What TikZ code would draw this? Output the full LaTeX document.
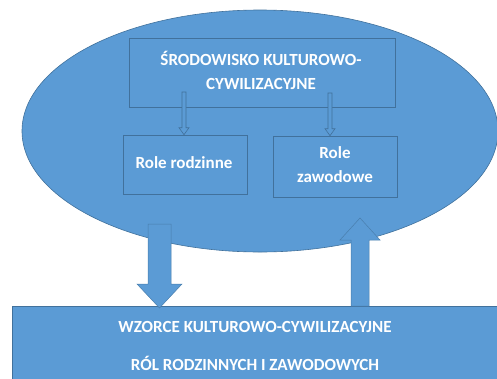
\documentclass[tikz,border=0pt]{standalone}
\usepackage{fontspec}
\setmainfont{Carlito}
\usetikzlibrary{shapes.geometric}
\definecolor{fillblue}{HTML}{5B9BD5}
\definecolor{edgeblue}{HTML}{41719C}
\begin{document}
\begin{tikzpicture}[x=1pt,y=-1pt,
  blob/.style={fill=fillblue,draw=edgeblue,line width=0.6pt},
  rolebox/.style={draw=edgeblue,fill=fillblue,line width=0.6pt,rectangle,inner sep=0pt},
  lbl/.style={text=white,font=\bfseries\fontsize{17}{24}\selectfont,align=center},
  thinarrow/.style={draw=edgeblue,fill=fillblue,line width=0.6pt},
  bigarrow/.style={draw=edgeblue!70!fillblue,fill=fillblue,line width=0.5pt}]
\useasboundingbox (0,0) rectangle (497,378);
% ellipse
\node[blob,ellipse,minimum width=476pt,minimum height=242pt,inner sep=0pt] (env) at (260,131) {};
% boxes
\node[rolebox,minimum width=266pt,minimum height=69pt] (top) at (262,72.5) {};
\node[lbl] at (261,70) {ŚRODOWISKO KULTUROWO-\\CYWILIZACYJNE};
\node[rolebox,minimum width=124pt,minimum height=59pt] (fam) at (185,164.5) {};
\node[lbl] at (184,163) {Role rodzinne};
\node[rolebox,minimum width=124pt,minimum height=61pt] (job) at (335,166.5) {};
\node[lbl] at (335,165) {Role\\zawodowe};
% thin arrows
\coordinate (a1s) at (184,92);
\coordinate (a1e) at (fam.north -| a1s);
\draw[thinarrow] ([xshift=-2pt]a1s) -- ([xshift=2pt]a1s) -- ([xshift=2pt,yshift=7pt]a1e) -- ([xshift=5pt,yshift=7pt]a1e) -- (a1e) -- ([xshift=-5pt,yshift=7pt]a1e) -- ([xshift=-2pt,yshift=7pt]a1e) -- cycle;
\coordinate (a2s) at (330,93);
\coordinate (a2e) at (job.north -| a2s);
\draw[thinarrow] ([xshift=-2pt]a2s) -- ([xshift=2pt]a2s) -- ([xshift=2pt,yshift=7pt]a2e) -- ([xshift=5pt,yshift=7pt]a2e) -- (a2e) -- ([xshift=-5pt,yshift=7pt]a2e) -- ([xshift=-2pt,yshift=7pt]a2e) -- cycle;
% bottom box
\node[rolebox,anchor=north west,minimum width=490pt,minimum height=80pt] (base) at (12,306) {};
\node[lbl] at (255,327) {WZORCE KULTUROWO-CYWILIZACYJNE};
\node[lbl] at (255,363) {RÓL RODZINNYCH I ZAWODOWYCH};
% big arrows
\coordinate (d1) at (159.5,224);
\coordinate (d2) at (base.north -| d1);
\draw[bigarrow] ([xshift=-11.5pt]d1) -- ([xshift=11.5pt]d1) -- ([xshift=11.5pt,yshift=22pt]d2) -- ([xshift=22.5pt,yshift=22pt]d2) -- ([yshift=-2pt]d2) -- ([xshift=-22.5pt,yshift=22pt]d2) -- ([xshift=-11.5pt,yshift=22pt]d2) -- cycle;
\coordinate (u1) at (base.north -| 360,0);
\coordinate (u2) at (360,218);
\draw[bigarrow] ([xshift=-9pt]u1) -- ([xshift=9pt]u1) -- ([xshift=9pt,yshift=-22pt]u2) -- ([xshift=20pt,yshift=-22pt]u2) -- (u2) -- ([xshift=-20pt,yshift=-22pt]u2) -- ([xshift=-9pt,yshift=-22pt]u2) -- cycle;
\end{tikzpicture}
\end{document}
